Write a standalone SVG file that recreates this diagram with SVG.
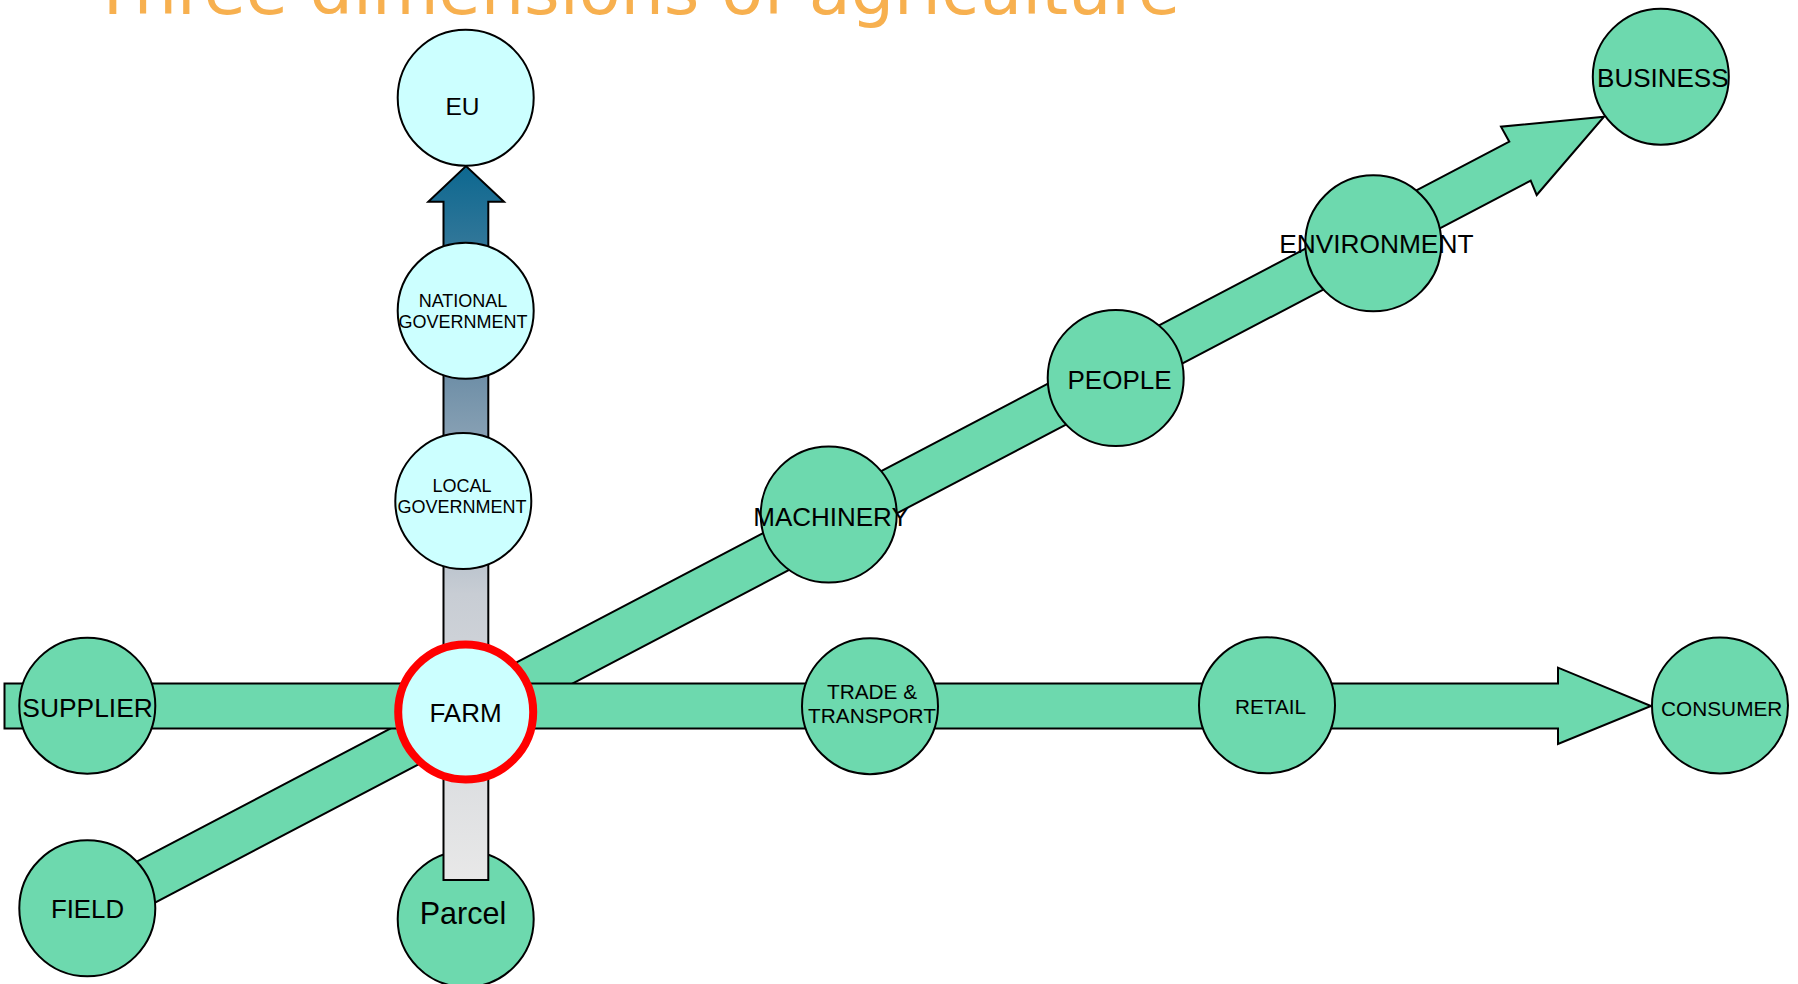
<svg xmlns="http://www.w3.org/2000/svg" width="1798" height="984" viewBox="0 0 1798 984">
<defs>
<linearGradient id="vgrad" gradientUnits="userSpaceOnUse" x1="0" y1="166" x2="0" y2="880">
<stop offset="0" stop-color="#0D6890"/>
<stop offset="0.3" stop-color="#7090A8"/>
<stop offset="0.6" stop-color="#C8CDD4"/>
<stop offset="1" stop-color="#E8E8E8"/>
</linearGradient>
<style>
.n{stroke:#000;stroke-width:2}
.g{fill:#6DD9AE}
.c{fill:#CCFFFF}
.t{font-family:"Liberation Sans",Arial,sans-serif;fill:#000;text-anchor:middle}
.arr{stroke:#000;stroke-width:2;stroke-linejoin:miter}
</style>
</defs>
<rect width="1798" height="984" fill="#fff"/>
<text x="92" y="14" font-family="DejaVu Sans,Verdana,sans-serif" font-size="68" fill="#F7B04F" textLength="1088" lengthAdjust="spacingAndGlyphs">Three dimensions of agriculture</text>

<g id="node-parcel"><circle class="n g" cx="465.7" cy="919" r="68"/><text class="t" x="463" y="923.5" font-size="30.5">Parcel</text></g>

<g id="connectors">
<polygon id="arrow-diagonal" class="arr g" points="76.6,893.1 1509.3,141.7 1501,126.7 1604,116.7 1536.7,195 1530.7,180.7 97.4,932.9"/>
<polygon id="arrow-chain" class="arr g" points="4.5,683.5 1558,683.5 1558,667.7 1651,706 1558,744 1558,728.5 4.5,728.5"/>
<polygon id="arrow-vertical" class="arr" fill="url(#vgrad)" points="443.5,880 443.5,201.7 428.3,201.7 466,166 504,201.7 488.3,201.7 488.3,880"/>
</g>

<g id="node-eu"><circle class="n c" cx="465.7" cy="97.7" r="68"/><text class="t" x="462.5" y="115" font-size="24.5">EU</text></g>
<g id="node-national"><circle class="n c" cx="465.7" cy="310.8" r="68"/><text class="t" x="463" y="307.3" font-size="18">NATIONAL</text><text class="t" x="463" y="328.3" font-size="18">GOVERNMENT</text></g>
<g id="node-local"><circle class="n c" cx="463.3" cy="501" r="68"/><text class="t" x="462" y="491.5" font-size="18">LOCAL</text><text class="t" x="462" y="512.5" font-size="18">GOVERNMENT</text></g>
<g id="node-farm"><circle cx="465.7" cy="712" r="67.5" fill="#CCFFFF" stroke="#FF0000" stroke-width="8"/><text class="t" x="465.5" y="721.7" font-size="26">FARM</text></g>
<g id="node-supplier"><circle class="n g" cx="87.3" cy="705.7" r="68"/><text class="t" x="87.6" y="716.5" font-size="26.4">SUPPLIER</text></g>
<g id="node-field"><circle class="n g" cx="87.3" cy="908.3" r="68"/><text class="t" x="87.5" y="918.3" font-size="25.8">FIELD</text></g>
<g id="node-machinery"><circle class="n g" cx="828.7" cy="514.5" r="68"/><text class="t" x="831" y="526" font-size="26">MACHINERY</text></g>
<g id="node-people"><circle class="n g" cx="1115.7" cy="378" r="68"/><text class="t" x="1119.5" y="389.3" font-size="26">PEOPLE</text></g>
<g id="node-environment"><circle class="n g" cx="1373.3" cy="243.3" r="68"/><text class="t" x="1376.3" y="252.7" font-size="26.3">ENVIRONMENT</text></g>
<g id="node-business"><circle class="n g" cx="1660.8" cy="76.7" r="68"/><text class="t" x="1662.8" y="86.7" font-size="26">BUSINESS</text></g>
<g id="node-trade"><circle class="n g" cx="870" cy="706.2" r="68"/><text class="t" x="872" y="699" font-size="20.8">TRADE &amp;</text><text class="t" x="872" y="723.3" font-size="20.8">TRANSPORT</text></g>
<g id="node-retail"><circle class="n g" cx="1267" cy="705.3" r="68"/><text class="t" x="1270.5" y="714" font-size="20.7">RETAIL</text></g>
<g id="node-consumer"><circle class="n g" cx="1720" cy="705.5" r="68"/><text class="t" x="1721.7" y="716" font-size="20.8">CONSUMER</text></g>
</svg>
